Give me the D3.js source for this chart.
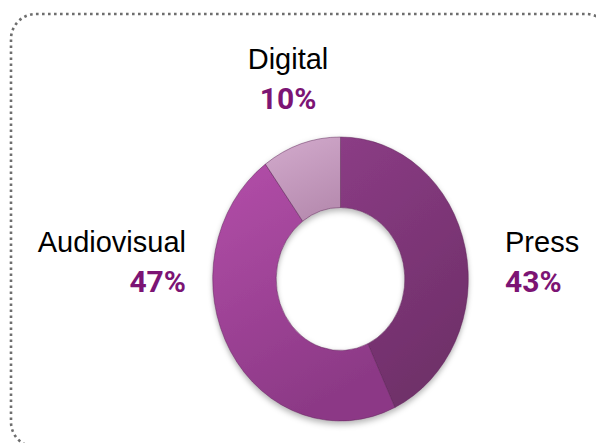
<html>
<head>
<style>
body { margin: 0; background: #fff; }
svg { display: block; }
</style>
</head>
<body>
<svg id="viz"></svg>
<script src="https://cdn.jsdelivr.net/npm/d3@7/dist/d3.min.js"></script>
<script>
var width = 596;
var height = 443;

// data
var categories = ["Press", "Audiovisual", "Digital"];
var shares = [43, 47, 10];

// colours: [light, dark] per slice
var fills = {
  "Press": ["#8b3c85", "#70306a"],
  "Audiovisual": ["#b34ea9", "#8c3986"],
  "Digital": ["#d3abcd", "#b88db1"]
};

// where the labels sit (name line and percent line)
var labelPos = {
  "Press": {x: 505, y: 252, anchor: "start"},
  "Audiovisual": {x: 186, y: 252, anchor: "end"},
  "Digital": {x: 288, y: 69, anchor: "middle"}
};

var cx = 340.5, cy = 279;
var outerR = 142, innerR = 71.5;
var squash = 0.9;

var svg = d3.select("#viz").attr("width", width).attr("height", height);
var defs = svg.append("defs");

categories.forEach(function(c, i) {
  var g = defs.append("linearGradient")
    .attr("id", "grad" + i)
    .attr("x1", "0").attr("y1", "0").attr("x2", "0.4").attr("y2", "1");
  g.append("stop").attr("offset", "0%").attr("stop-color", fills[c][0]);
  g.append("stop").attr("offset", "100%").attr("stop-color", fills[c][1]);
});

var shadow = defs.append("filter").attr("id", "shadow")
  .attr("x", "-20%").attr("y", "-20%").attr("width", "140%").attr("height", "140%");
shadow.append("feDropShadow")
  .attr("dx", 0).attr("dy", 3).attr("stdDeviation", 3)
  .attr("flood-color", "#000").attr("flood-opacity", 0.3);

// dotted frame
svg.append("rect")
  .attr("x", 11).attr("y", 14)
  .attr("width", 600).attr("height", 433)
  .attr("rx", 25).attr("ry", 25)
  .attr("fill", "none")
  .attr("stroke", "#6e6e6e")
  .attr("stroke-width", 2.6)
  .attr("stroke-dasharray", "2.6 3.4");

var data = categories.map(function(c, i) { return {name: c, value: shares[i], idx: i}; });

var pie = d3.pie().sort(null).value(function(d) { return d.value; });
var arc = d3.arc().innerRadius(innerR).outerRadius(outerR);

var donut = svg.append("g")
  .attr("transform", "translate(" + cx + "," + cy + ") scale(" + squash + ",1)")
  .attr("filter", "url(#shadow)");

donut.selectAll("path")
  .data(pie(data))
  .enter()
  .append("path")
  .attr("d", arc)
  .attr("fill", function(d) { return "url(#grad" + d.data.idx + ")"; })
  .attr("stroke", "#5a2255")
  .attr("stroke-opacity", 0.5)
  .attr("stroke-width", 1);

// labels
var labels = svg.append("g").selectAll("g")
  .data(data)
  .enter()
  .append("g")
  .attr("transform", function(d) {
    var p = labelPos[d.name];
    return "translate(" + p.x + "," + p.y + ")";
  })
  .attr("text-anchor", function(d) { return labelPos[d.name].anchor; });

labels.append("text")
  .text(function(d) { return d.name; })
  .style("font-family", "'Liberation Sans', Arial, sans-serif")
  .style("font-size", "29px")
  .attr("fill", "#000");

labels.append("text")
  .attr("y", 40)
  .text(function(d) { return d.value + "%"; })
  .style("font-family", "Roboto, 'Liberation Sans', sans-serif")
  .style("font-weight", "bold")
  .style("font-size", "30px")
  .attr("fill", "#7c1474");
</script>
</body>
</html>
